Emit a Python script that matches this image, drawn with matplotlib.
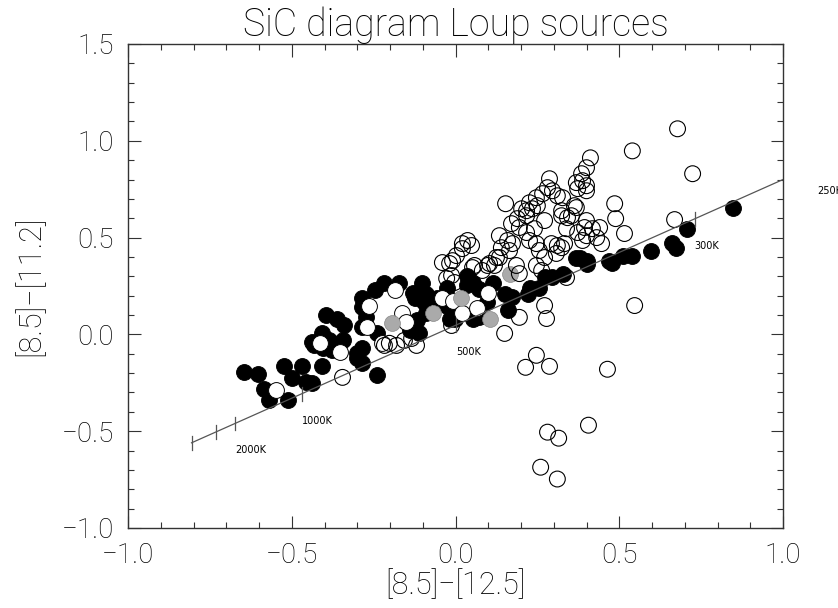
import matplotlib
matplotlib.use("Agg")
import matplotlib.pyplot as plt
from matplotlib.ticker import MultipleLocator
import numpy as np

# ---- data ----
black_x = [-0.647, -0.602, -0.586, -0.568, -0.525, -0.498, -0.470, -0.455, -0.437, -0.510,
           -0.409, -0.431, -0.409, -0.394, -0.363, -0.339, -0.437, -0.385, -0.345, -0.241,
           -0.302, -0.284, -0.284, -0.247, -0.217, -0.171, -0.131, -0.101, -0.095, -0.272,
           -0.089, -0.140, -0.058, -0.027, 0.034, 0.073, 0.095, 0.073, -0.003, -0.027,
           -0.284, -0.284, -0.241, -0.302, -0.284, -0.110, -0.119, 0.034, 0.052, 0.113,
           0.150, 0.171, 0.220, 0.256, 0.296, 0.327, 0.379, 0.403, 0.479, 0.159,
           -0.009, -0.018, 0.052, 0.226, 0.272, 0.369, 0.400, 0.470, 0.510, 0.540,
           0.598, 0.660, 0.672, 0.708, 0.846, -0.406, -0.376, -0.125, -0.089]
black_y = [-0.196, -0.206, -0.284, -0.340, -0.165, -0.227, -0.165, -0.247, -0.253, -0.340,
           -0.165, -0.057, 0.005, 0.098, 0.082, 0.046, -0.041, -0.031, -0.031, -0.211,
           -0.124, -0.072, 0.186, 0.227, 0.263, 0.263, 0.216, 0.268, 0.165, 0.088,
           0.108, 0.021, 0.186, 0.242, 0.253, 0.237, 0.165, 0.088, 0.082, 0.149,
           0.139, 0.036, 0.005, -0.098, -0.149, 0.005, 0.072, 0.304, 0.263, 0.268,
           0.211, 0.191, 0.211, 0.242, 0.294, 0.314, 0.397, 0.366, 0.371, 0.124,
           0.160, 0.082, 0.082, 0.242, 0.294, 0.397, 0.381, 0.381, 0.407, 0.407,
           0.433, 0.474, 0.448, 0.546, 0.655, -0.072, -0.082, 0.186, 0.211]

white_x = [-0.547, -0.415, -0.354, -0.263, -0.186, -0.162, -0.269, -0.150, -0.040, -0.009,
           0.021, 0.067, 0.098, -0.223]
white_y = [-0.289, -0.046, -0.093, 0.149, 0.227, 0.113, 0.036, 0.062, 0.186, 0.175,
           0.113, 0.134, 0.216, -0.046]

gray_x = [-0.195, -0.070, 0.018, 0.104, 0.165]
gray_y = [0.057, 0.113, 0.186, 0.082, 0.314]

open_x = [-0.345, -0.217, -0.202, -0.180, -0.156, -0.134, -0.119, -0.012, -0.040, -0.018,
          -0.012, 0.003, 0.021, 0.037, 0.049, 0.058, 0.082, 0.104, 0.125, 0.021,
          -0.009, 0.098, 0.134, 0.159, 0.174, 0.140, 0.165, 0.226, 0.247, 0.256,
          0.293, 0.311, 0.171, 0.195, 0.241, 0.217, 0.339, 0.394, 0.418, 0.373,
          0.400, 0.431, 0.217, 0.189, 0.272, 0.324, 0.363, 0.354, 0.153, 0.202,
          0.217, 0.235, 0.250, 0.226, 0.247, 0.266, 0.311, 0.296, 0.281, 0.287,
          0.412, 0.400, 0.385, 0.369, 0.388, 0.400, 0.373, 0.400, 0.327, 0.324,
          0.369, 0.342, 0.400, 0.440, 0.333, 0.388, 0.446, 0.324, 0.486, 0.489,
          0.516, 0.540, 0.678, 0.724, 0.669, 0.547, 0.247, 0.263, 0.339, 0.052,
          0.119, 0.186, 0.195, 0.272, 0.308, 0.134, 0.195, 0.150, 0.272, 0.278,
          0.247, 0.214, 0.287, 0.464, 0.281, 0.315, 0.406, 0.260, 0.311, -0.027,
          -0.003]
open_y = [-0.222, -0.057, -0.046, -0.057, -0.031, -0.021, -0.057, 0.046, 0.371, 0.366,
          0.304, 0.407, 0.469, 0.485, 0.459, 0.356, 0.330, 0.366, 0.397, 0.443,
          0.381, 0.356, 0.510, 0.485, 0.469, 0.448, 0.433, 0.485, 0.469, 0.433,
          0.469, 0.459, 0.572, 0.552, 0.546, 0.526, 0.546, 0.552, 0.546, 0.526,
          0.510, 0.500, 0.613, 0.598, 0.588, 0.613, 0.665, 0.613, 0.675, 0.649,
          0.639, 0.649, 0.665, 0.680, 0.706, 0.727, 0.716, 0.742, 0.758, 0.804,
          0.912, 0.861, 0.830, 0.784, 0.794, 0.768, 0.753, 0.742, 0.706, 0.639,
          0.655, 0.603, 0.588, 0.552, 0.469, 0.485, 0.469, 0.448, 0.675, 0.598,
          0.521, 0.948, 1.062, 0.830, 0.593, 0.149, 0.356, 0.330, 0.294, 0.345,
          0.356, 0.356, 0.314, 0.397, 0.418, 0.397, 0.088, 0.005, 0.149, 0.082,
          -0.108, -0.170, -0.165, -0.180, -0.505, -0.536, -0.469, -0.686, -0.747, 0.289,
          0.268]

# blackbody line and its temperature marks
line_x = [-0.806, 1.0]
line_y = [-0.560, 0.800]
mark_x = [-0.806, -0.730, -0.672, -0.470, 0.003, 0.730, 1.105]
mark_labels = ["", "", "2000K", "1000K", "500K", "300K", "250K"]

title = "SiC diagram Loup sources"
xlabel = "[8.5]\u2212[12.5]"
ylabel = "[8.5]\u2212[11.2]"
xticks = [-1.0, -0.5, 0.0, 0.5, 1.0]
yticks = [-1.0, -0.5, 0.0, 0.5, 1.0, 1.5]

# ---- figure ----
plt.rcParams['font.family'] = ['Roboto', 'DejaVu Sans']
plt.rcParams['font.weight'] = 'light'
plt.rcParams['axes.titleweight'] = 'light'
plt.rcParams['axes.labelweight'] = 'light'
plt.rcParams['axes.unicode_minus'] = True

fig = plt.figure(figsize=(8.38, 6.08), dpi=100)
ax = fig.add_axes([128/838, 1-528/608, (783-128)/838, (528-44)/608])

ms = 130
ax.scatter(black_x, black_y, s=ms, c='black', edgecolors='black', linewidths=0.7, zorder=2)
ax.scatter(white_x, white_y, s=ms, c='white', edgecolors='black', linewidths=0.7, zorder=3)
ax.scatter(gray_x, gray_y, s=ms, c='#aaaaaa', edgecolors='#888888', linewidths=0.5, zorder=4)
ax.scatter(open_x, open_y, s=ms, facecolors='none', edgecolors='black', linewidths=0.8, zorder=5)

slope = (line_y[1]-line_y[0])/(line_x[1]-line_x[0])
ax.plot(line_x, line_y, color='#555555', lw=0.9, zorder=6)
for mx, lab in zip(mark_x, mark_labels):
    my = line_y[0] + slope*(mx - line_x[0])
    if mx <= 1.0:
        ax.plot([mx, mx], [my-0.035, my+0.035], color='#555555', lw=0.9, zorder=6)
    if lab:
        ax.text(mx, my-0.14, lab, fontsize=7, ha='left', va='center',
                family=['DejaVu Sans'], fontweight='normal', clip_on=False)

ax.set_xlim(-1.0, 1.0)
ax.set_ylim(-1.0, 1.5)
ax.set_xticks(xticks)
ax.set_yticks(yticks)
ax.set_xticklabels([f"{t:.1f}".replace('-', '\u2212') for t in xticks])
ax.set_yticklabels([f"{t:.1f}".replace('-', '\u2212') for t in yticks])
ax.xaxis.set_minor_locator(MultipleLocator(0.1))
ax.yaxis.set_minor_locator(MultipleLocator(0.1))
ax.tick_params(which='both', direction='in', top=True, right=True, colors='#333333',
               labelcolor='black', width=0.8)
ax.tick_params(which='major', length=9, labelsize=20, pad=10)
ax.tick_params(which='minor', length=4.5)
for sp in ax.spines.values():
    sp.set_color('#333333')
    sp.set_linewidth(1.0)

ax.set_title(title, fontsize=27, pad=6)
ax.set_xlabel(xlabel, fontsize=22, labelpad=0)
ax.set_ylabel(ylabel, fontsize=22, labelpad=12)

fig.savefig("out.png", dpi=100)
